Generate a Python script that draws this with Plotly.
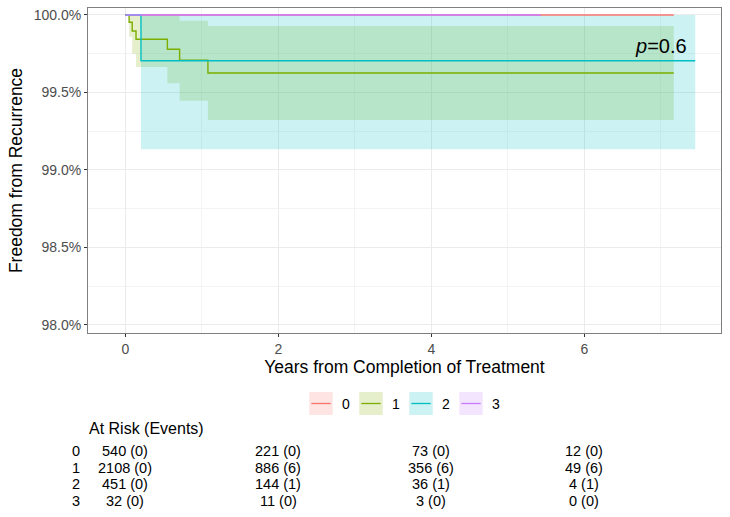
import plotly.graph_objects as go

# ---------------- data ----------------
groups = ["0", "1", "2", "3"]
colors = ["#F8766D", "#7CAE00", "#00BFC4", "#C77CFF"]
fills = ["rgba(248,118,109,0.2)", "rgba(124,174,0,0.2)",
         "rgba(0,191,196,0.2)", "rgba(199,124,255,0.2)"]

# survival curves (percent); times in years
g0_time = [0.0, 7.17]
g0_surv = [100.0, 100.0]
g0_low = [100.0, 100.0]
g0_up = [100.0, 100.0]

g1_time = [0.0, 0.05, 0.09, 0.14, 0.55, 0.71, 1.08, 7.17]
g1_surv = [100.0, 99.953, 99.897, 99.843, 99.779, 99.708, 99.626, 99.626]
g1_low = [100.0, 99.86, 99.75, 99.665, 99.56, 99.447, 99.323, 99.323]
g1_up = [100.0, 100.0, 100.0, 100.0, 100.0, 99.963, 99.929, 99.929]

g2_time = [0.0, 0.205, 7.45]
g2_surv = [100.0, 99.705, 99.705]
g2_low = [100.0, 99.133, 99.133]
g2_up = [100.0, 100.0, 100.0]

g3_time = [0.0, 5.43]
g3_surv = [100.0, 100.0]
g3_low = [100.0, 100.0]
g3_up = [100.0, 100.0]

x_ticks = [0, 2, 4, 6]
y_ticks = [98.0, 98.5, 99.0, 99.5, 100.0]
y_tick_labels = ["98.0%", "98.5%", "99.0%", "99.5%", "100.0%"]

risk_times = [0, 2, 4, 6]
at_risk = {
    "0": [540, 221, 73, 12],
    "1": [2108, 886, 356, 49],
    "2": [451, 144, 36, 4],
    "3": [32, 11, 3, 0],
}
events = {
    "0": [0, 0, 0, 0],
    "1": [0, 6, 6, 6],
    "2": [0, 1, 1, 1],
    "3": [0, 0, 0, 0],
}
p_text = "<i>p</i>=0.6"

# ---------------- figure ----------------
times = [g0_time, g1_time, g2_time, g3_time]
survs = [g0_surv, g1_surv, g2_surv, g3_surv]
lows = [g0_low, g1_low, g2_low, g3_low]
ups = [g0_up, g1_up, g2_up, g3_up]

FONT = "Liberation Sans, Arial, sans-serif"
W, H = 730, 517
L, R, T, B = 88, 721, 8, 333


def pxx(px):
    return (px - L) / (R - L)


def pxy(py):
    return (B - py) / (B - T)


fig = go.Figure()

for i in range(4):
    fig.add_trace(go.Scatter(x=times[i], y=lows[i], mode="lines",
                             line=dict(width=0, shape="hv", color=fills[i]),
                             showlegend=False, hoverinfo="skip"))
    fig.add_trace(go.Scatter(x=times[i], y=ups[i], mode="lines",
                             line=dict(width=0, shape="hv", color=fills[i]),
                             fill="tonexty", fillcolor=fills[i],
                             showlegend=False, hoverinfo="skip"))

for i in range(4):
    fig.add_trace(go.Scatter(x=times[i], y=survs[i], mode="lines",
                             line=dict(width=1.4, shape="hv", color=colors[i]),
                             name=groups[i], showlegend=False))

annotations = []
shapes = []

# p-value
annotations.append(dict(x=7.0, y=99.8, xref="x", yref="y", text=p_text,
                        showarrow=False, font=dict(family=FONT, size=20, color="black"),
                        xanchor="center", yanchor="middle"))

# manual legend
leg_x0 = 309.3
for i, g in enumerate(groups):
    x0 = leg_x0 + 50 * i
    shapes.append(dict(type="rect", xref="paper", yref="paper",
                       x0=pxx(x0), x1=pxx(x0 + 23.4), y0=pxy(415), y1=pxy(392),
                       fillcolor=fills[i], line=dict(width=0)))
    shapes.append(dict(type="line", xref="paper", yref="paper",
                       x0=pxx(x0 + 2), x1=pxx(x0 + 21.4), y0=pxy(403.5), y1=pxy(403.5),
                       line=dict(color=colors[i], width=1.3)))
    annotations.append(dict(x=pxx(x0 + 37), y=pxy(404), xref="paper", yref="paper",
                            text=g, showarrow=False,
                            font=dict(family=FONT, size=14, color="black"),
                            xanchor="center", yanchor="middle"))

# risk table
annotations.append(dict(x=pxx(87), y=pxy(428), xref="paper", yref="paper",
                        text="At Risk (Events)", showarrow=False,
                        font=dict(family=FONT, size=16, color="black"),
                        xanchor="left", yanchor="middle"))
row_y = [451, 467.7, 484.3, 501]
for r, g in enumerate(groups):
    annotations.append(dict(x=pxx(76), y=pxy(row_y[r]), xref="paper", yref="paper",
                            text=g, showarrow=False,
                            font=dict(family=FONT, size=14.5, color="black"),
                            xanchor="center", yanchor="middle"))
    for c, t in enumerate(risk_times):
        annotations.append(dict(x=t, y=pxy(row_y[r]), xref="x", yref="paper",
                                text=f"{at_risk[g][c]} ({events[g][c]})",
                                showarrow=False,
                                font=dict(family=FONT, size=14.5, color="black"),
                                xanchor="center", yanchor="middle"))

fig.update_layout(
    width=W, height=H,
    margin=dict(l=L, r=W - R, t=T, b=H - B, pad=0, autoexpand=False),
    plot_bgcolor="white", paper_bgcolor="white",
    font=dict(family=FONT),
    showlegend=False,
    hovermode=False,
    annotations=annotations,
    shapes=shapes,
)

fig.update_xaxes(
    automargin=False,
    range=[-0.4876, 7.787],
    tickvals=x_ticks, ticktext=[str(v) for v in x_ticks],
    tickfont=dict(family=FONT, size=14, color="#4D4D4D"),
    ticks="outside", ticklen=3, tickcolor="#333333",
    showgrid=True, gridcolor="#EBEBEB", gridwidth=1.1,
    minor=dict(dtick=1, tick0=0, showgrid=True, gridcolor="#F4F4F4", gridwidth=0.6),
    showline=True, linecolor="#7F7F7F", linewidth=1, mirror=True,
    zeroline=False,
    title=dict(text="Years from Completion of Treatment",
               font=dict(family=FONT, size=17.5, color="black"), standoff=4),
)
fig.update_yaxes(
    automargin=False,
    range=[97.948, 100.045],
    tickvals=y_ticks, ticktext=y_tick_labels,
    tickfont=dict(family=FONT, size=14, color="#4D4D4D"),
    ticks="outside", ticklen=3, tickcolor="#333333",
    showgrid=True, gridcolor="#EBEBEB", gridwidth=1.1,
    minor=dict(dtick=0.25, tick0=98, showgrid=True, gridcolor="#F4F4F4", gridwidth=0.6),
    showline=True, linecolor="#7F7F7F", linewidth=1, mirror=True,
    zeroline=False,
    title=dict(text="Freedom from Recurrence",
               font=dict(family=FONT, size=17.5, color="black"), standoff=6),
)

fig.write_html("out.html", config={"displayModeBar": False},
               post_script="document.body.style.margin='0px';")
